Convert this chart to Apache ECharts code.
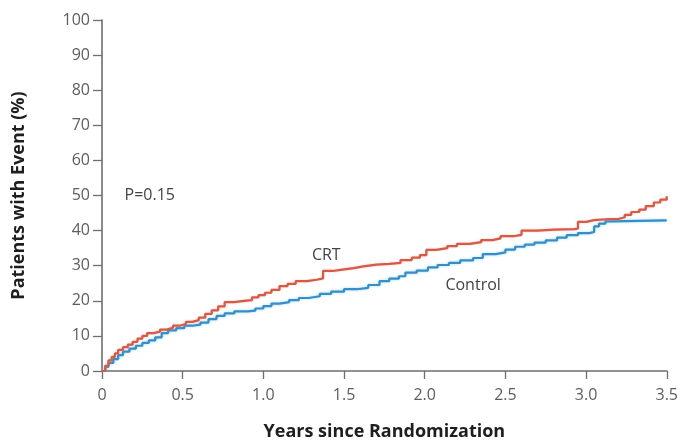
<!DOCTYPE html>
<html>
<head>
<meta charset="utf-8">
<script src="https://cdn.jsdelivr.net/npm/echarts@6/dist/echarts.min.js"></script>
<style>
  html, body { margin: 0; padding: 0; background: #fff; }
  #chart { width: 681px; height: 446px; }
</style>
</head>
<body>
<div id="chart"></div>
<script>
// Kaplan-Meier style cumulative event curves: [years, percent]
const crtSteps = [
  [0,0],[0.02,1.5],[0.04,3],[0.06,4],[0.08,5],[0.1,6],[0.13,6.8],[0.16,7.5],[0.19,8.3],
  [0.22,9.2],[0.25,10],[0.28,10.8],[0.32,11.2],[0.36,11.8],[0.4,12.3],[0.44,12.9],[0.48,13.4],
  [0.52,14],[0.56,14.5],[0.6,15.2],[0.64,16.3],[0.68,17.3],[0.72,18.4],[0.76,19.6],[0.82,20],
  [0.88,20.2],[0.93,21],[0.97,21.6],[1.01,22.3],[1.05,23.1],[1.1,24.2],[1.15,24.8],[1.2,25.6],
  [1.27,26],[1.33,26.4],[1.37,28.5],[1.43,28.9],[1.49,29.3],[1.56,29.8],[1.62,30.3],[1.7,30.5],
  [1.78,30.8],[1.85,31.6],[1.92,32.3],[1.97,33],[2.01,34.5],[2.07,35],[2.14,35.6],[2.2,36.2],
  [2.28,36.7],[2.35,37.3],[2.42,37.8],[2.47,38.4],[2.55,38.8],[2.6,40],[2.7,40.3],[2.8,40.4],
  [2.93,40.6],[2.95,42.5],[3.0,43],[3.05,43.3],[3.15,43.3],[3.2,43.8],[3.24,44.5],[3.28,45.3],
  [3.33,46],[3.37,47],[3.42,48],[3.46,48.8],[3.5,49.8]
];
const controlSteps = [
  [0,0],[0.02,1.2],[0.04,2.3],[0.07,3.4],[0.1,4.5],[0.13,5.5],[0.17,6.4],[0.21,7.2],[0.25,8],
  [0.29,8.7],[0.33,9.6],[0.37,10.8],[0.41,11.6],[0.46,12.2],[0.51,12.9],[0.56,13.2],[0.61,13.8],
  [0.66,14.8],[0.71,15.7],[0.76,16.4],[0.82,17],[0.9,17.2],[0.95,17.8],[1.0,18.5],[1.05,19.2],
  [1.1,19.6],[1.16,20.2],[1.22,20.8],[1.28,21.3],[1.35,22],[1.42,22.6],[1.5,23.3],[1.58,23.7],
  [1.65,24.5],[1.72,25.6],[1.78,26.3],[1.84,27],[1.88,28],[1.95,28.6],[2.02,29.5],[2.08,30.2],
  [2.15,30.8],[2.22,31.5],[2.3,32.2],[2.36,33.3],[2.44,33.8],[2.5,34.6],[2.56,35.4],[2.62,36],
  [2.68,36.6],[2.75,37.2],[2.82,38],[2.88,38.7],[2.95,39.3],[3.02,39.6],[3.05,41.2],[3.08,42],
  [3.12,42.6],[3.16,42.9],[3.5,42.9]
];
const xTicks = [0, 0.5, 1.0, 1.5, 2.0, 2.5, 3.0, 3.5];
const yTicks = [0, 10, 20, 30, 40, 50, 60, 70, 80, 90, 100];
// Annotation texts anchored in data space: [x, y, text, align]
const annotations = [
  [0.14, 49.9, 'P=0.15', 'left'],
  [1.39, 32.9, 'CRT', 'center'],
  [2.3, 24.4, 'Control', 'center']
];

const FONT = '"Open Sans", "Liberation Sans", sans-serif';
const axisGray = '#6e6e6e';
const labelGray = '#5e5e5e';

const chart = echarts.init(document.getElementById('chart'));
const option = {
  animation: false,
  backgroundColor: '#fff',
  grid: { left: 102, right: 11, top: 20, bottom: 73 },
  xAxis: {
    type: 'value',
    min: xTicks[0], max: xTicks[xTicks.length - 1], interval: 0.5,
    name: 'Years since Randomization',
    nameLocation: 'middle', nameGap: 52,
    nameTextStyle: { fontFamily: FONT, fontWeight: 'bold', fontSize: 18, color: '#1e1e1e' },
    axisLine: { lineStyle: { color: axisGray, width: 1.6 } },
    axisTick: { show: true, length: 8, lineStyle: { color: axisGray, width: 1.3 } },
    axisLabel: {
      fontFamily: FONT, fontSize: 16, color: labelGray, margin: 16,
      formatter: v => (v === 0 ? '0' : v.toFixed(1))
    },
    splitLine: { show: false }
  },
  yAxis: {
    type: 'value',
    min: yTicks[0], max: yTicks[yTicks.length - 1], interval: 10,
    name: 'Patients with Event (%)',
    nameLocation: 'middle', nameGap: 74,
    nameTextStyle: { fontFamily: FONT, fontWeight: 'bold', fontSize: 18, color: '#1e1e1e' },
    axisLine: { show: true, lineStyle: { color: axisGray, width: 1.6 } },
    axisTick: { show: true, length: 9, lineStyle: { color: axisGray, width: 1.3 } },
    axisLabel: { fontFamily: FONT, fontSize: 16, color: labelGray, margin: 12 },
    splitLine: { show: false }
  },
  series: [
    {
      name: 'Control', type: 'line', step: 'end', data: controlSteps,
      showSymbol: false, z: 2,
      lineStyle: { color: '#3a8cc6', width: 2.2, shadowColor: 'rgba(90,200,240,0.6)', shadowBlur: 3 }
    },
    {
      name: 'CRT', type: 'line', step: 'end', data: crtSteps,
      showSymbol: false, z: 3,
      lineStyle: { color: '#d65a48', width: 2.2, shadowColor: 'rgba(230,140,120,0.5)', shadowBlur: 2 }
    }
  ]
};
chart.setOption(option);

chart.setOption({
  graphic: annotations.map(a => {
    const p = chart.convertToPixel({ gridIndex: 0 }, [a[0], a[1]]);
    return {
      type: 'text', x: p[0], y: p[1],
      style: {
        text: a[2], fill: '#444', font: '16px ' + FONT,
        textAlign: a[3], textVerticalAlign: 'middle'
      }
    };
  })
});
</script>
</body>
</html>
